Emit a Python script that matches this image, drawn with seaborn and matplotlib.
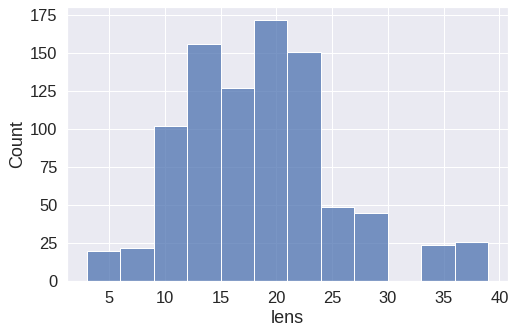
import matplotlib
matplotlib.use("Agg")
import matplotlib.pyplot as plt
import seaborn as sns
import pandas as pd

# Histogram of "lens": bin centres and counts
bin_centers = [4.5, 7.5, 10.5, 13.5, 16.5, 19.5, 22.5, 25.5, 28.5, 31.5, 34.5, 37.5]
counts = [20, 22, 102, 156, 127, 172, 151, 49, 45, 0, 24, 26]
bin_edges = [3, 6, 9, 12, 15, 18, 21, 24, 27, 30, 33, 36, 39]

df = pd.DataFrame({"lens": bin_centers, "count": counts})

sns.set_theme(style="darkgrid", font_scale=1.5)
plt.rcParams["font.family"] = ["Liberation Sans", "DejaVu Sans"]

fig = plt.figure(figsize=(515 / 72, 335 / 72), dpi=72)
ax = fig.add_axes([0.1295, 0.161, 0.8575, 0.819])
sns.histplot(data=df, x="lens", weights="count", bins=bin_edges, ax=ax)
ax.set_ylabel("Count")
ax.set_xlabel("lens")
ax.set_yticks([0, 25, 50, 75, 100, 125, 150, 175])

fig.savefig("out.png", dpi=72)
